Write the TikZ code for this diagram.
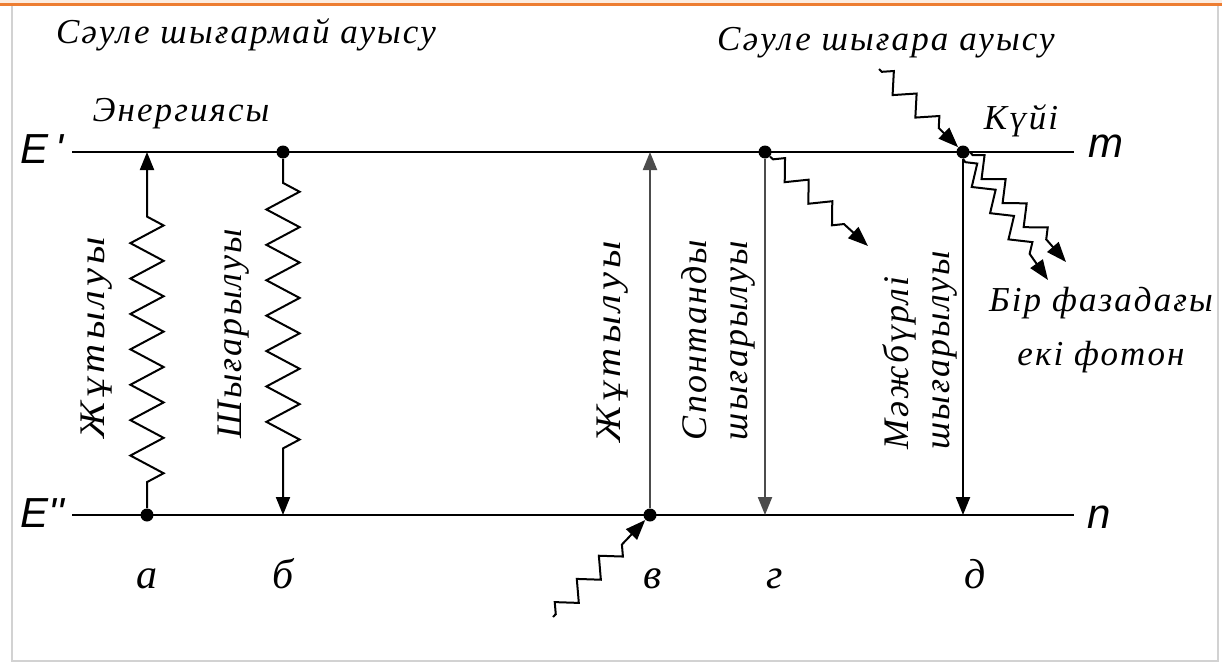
\documentclass[tikz,border=0pt]{standalone}
\usepackage{fontspec}
\setmainfont{Liberation Serif}
\newfontfamily\lbl{Liberation Serif}[LetterSpace=6]
\newfontfamily\lblw{Liberation Serif}[LetterSpace=12,FakeStretch=1.12]
\newfontfamily\sym{Liberation Sans}
\usetikzlibrary{arrows.meta,decorations.pathmorphing}
\definecolor{hdr}{RGB}{237,125,49}
\begin{document}
\begin{tikzpicture}[x=0.5pt,y=-0.5pt,
  lvl/.style={line width=1.4pt},
  dot/.style={circle, fill=black, inner sep=0pt, minimum size=6.5pt},
  tr/.style={line width=1.1pt, -{Triangle[length=9pt,width=7pt]}},
  wig/.style={line width=1pt, decorate, decoration={zigzag, segment length=17.7pt, amplitude=8.3pt, pre length=13pt, post length=24pt}},
  photon/.style={line width=1pt, -{Triangle[length=10pt,width=7.5pt]}, decorate, decoration={zigzag, segment length=16pt, amplitude=4.5pt, pre length=2pt, post length=11pt}},
  txt/.style={font=\lbl\itshape\fontsize{17.5}{20}\selectfont, inner sep=0pt},
  rtxt/.style={inner sep=0pt, rotate=90, align=left, font=\lbl\itshape\fontsize{18}{20.5}\selectfont},
  wtxt/.style={rtxt, font=\lblw\itshape\fontsize{18}{20.5}\selectfont},
  lett/.style={font=\itshape\fontsize{21}{22}\selectfont, inner sep=0pt, anchor=base},
  lev/.style={font=\sym\itshape\fontsize{21}{22}\selectfont, inner sep=0pt, anchor=base west}
]
\useasboundingbox (0,0) rectangle (1222,664);
% header band and frame
\fill[hdr!15] (0,0) rectangle (1222,3);
\fill[hdr] (0,3) rectangle (1222,6);
\draw[gray!35, line width=0.8pt] (12,6) -- (12,661) -- (1218,661) -- (1218,6);

% levels
\coordinate (LT) at (72,152);
\coordinate (RT) at (1074,152);
\coordinate (LB) at (72,515);
\coordinate (RB) at (1074,515);
\draw[lvl] (LT) -- (RT);
\draw[lvl] (LB) -- (RB);
\node[lev] (Ep) at (20,163) {E\,'};
\node[lev] (Epp) at (20,527) {E''};
\node[lev] (mm) at (1088,157) {m};
\node[lev] (nn) at (1087,528) {n};

% transition a (absorption, non-radiative)
\node[dot] (aB) at (147,515) {};
\coordinate (aT) at (147,152);
\draw[wig, decoration={mirror}, -{Triangle[length=9pt,width=7pt]}] (aB) -- (aT);
% transition b
\node[dot] (bT) at (283,152) {};
\coordinate (bB) at (283,515);
\draw[wig, decoration={pre length=12pt, post length=26.5pt}, -{Triangle[length=9pt,width=7pt]}] (bT) -- (bB);

% transition v (absorption)
\node[dot] (vB) at (650,515) {};
\coordinate (vT) at (650,152);
\draw[tr, gray!60!black] (vB) -- (vT);
\coordinate (vIn) at (553,617);
\draw[photon] (vIn) -- (vB);

% transition g (spontaneous)
\node[dot] (gT) at (765,152) {};
\coordinate (gB) at (765,515);
\draw[tr, gray!60!black] (gT) -- (gB);
\coordinate (gOut) at (868,246);
\draw[photon] (gT) -- (gOut);

% transition d (stimulated)
\node[dot] (dT) at (963,152) {};
\coordinate (dB) at (963,515);
\draw[tr] (dT) -- (dB);
\coordinate (dIn) at (879,69);
\draw[photon] (dIn) -- (dT);
\coordinate (dOut1) at (1066,262);
\coordinate (dOut2) at (1048,280);
\draw[photon] (dT.east) -- (dOut1);
\draw[photon] (dT.south) -- (dOut2);

% texts
\node[txt] (t1) at (246,35) {Сәуле шығармай ауысу};
\node[txt] (t2) at (886,43) {Сәуле шығара ауысу};
\node[txt] (en) at (181,114) {Энергиясы};
\node[txt] (ky) at (1021,121) {Күйі};
\node[txt, align=center] (bf) at (1101,330) {Бір фазадағы\\[7pt]екі фотон};

\node[wtxt] (la) at (97,338) {Жұтылуы};
\node[rtxt] (lb) at (234,334) {Шығарылуы};
\node[wtxt] (lv) at (613,342) {Жұтылуы};
\node[rtxt] (lg) at (718,340) {Спонтанды\\шығарылуы};
\node[rtxt] (ld) at (920,350) {Мәжбүрлі\\шығарылуы};

\node[lett] (xa) at (147,588) {а};
\node[lett] (xb) at (283,588) {б};
\node[lett] (xv) at (653,588) {в};
\node[lett] (xg) at (775,588) {г};
\node[lett] (xd) at (975,588) {д};
\end{tikzpicture}
\end{document}
